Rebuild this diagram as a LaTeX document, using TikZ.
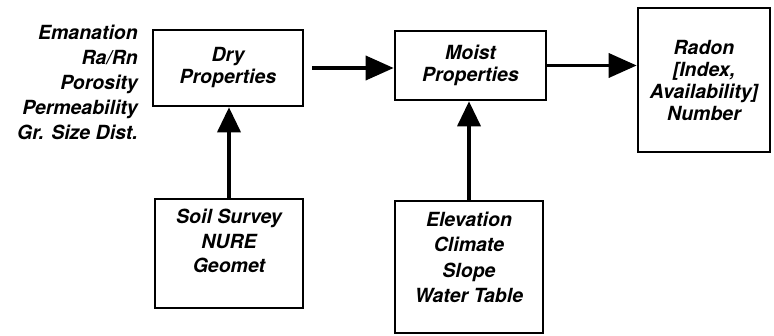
\documentclass[tikz,border=0pt]{standalone}
\usepackage{fontspec}
\setmainfont{TeX Gyre Heros}
\usetikzlibrary{arrows.meta, positioning}

\begin{document}
\begin{tikzpicture}[
  x=1pt, y=1pt,
  every node/.style={font=\fontsize{19.5}{22}\selectfont\bfseries\itshape, align=center, inner sep=0pt},
  box/.style={draw, line width=2.6pt, minimum width=#1},
  box/.default=150pt,
  arr/.style={-{Triangle[length=28pt, width=24pt]}, line width=3.6pt},
  uparr/.style={-{Triangle[length=25pt, width=23pt]}, line width=3.6pt}
]
  \useasboundingbox (0,0) rectangle (774,335);

  % Top row
  \node[box, minimum height=76pt]                  (dry)   at (228, 267)   {Dry\\Properties};
  \node[box=151pt, minimum height=69pt]            (moist) at (470.5, 269.5) {Moist\\Properties};
  \node[box=132pt, minimum height=144pt]           (radon) at (704, 255)   {Radon\\{[}Index,\\Availability{]}\\Number};

  % Inputs
  \node[anchor=east, font=\fontsize{19.5}{25}\selectfont\bfseries\itshape, align=right]
                                                   (props) at (138, 253)   {Emanation\\Ra/Rn\\Porosity\\Permeability\\Gr. Size Dist.};
  \node[box=148pt, minimum height=109pt, font=\fontsize{19.5}{24.5}\selectfont\bfseries\itshape]
                                                   (soil)  at (229, 81.5)  {Soil Survey\\NURE\\Geomet\\[0pt]};
  \node[box=148pt, minimum height=132pt, font=\fontsize{19.5}{25.5}\selectfont\bfseries\itshape]
                                                   (elev)  at (469, 68)    {Elevation\\Climate\\Slope\\Water Table\\[-6pt]};

  % Arrows
  \draw[arr, shorten <=8pt] (dry.east) -- (dry.east -| moist.west);
  \draw[arr] (moist.east) -- (moist.east -| radon.west);
  \draw[uparr] (soil.north) -- (soil.north |- dry.south);
  \draw[uparr] (elev.north) -- (elev.north |- moist.south);
\end{tikzpicture}
\end{document}
